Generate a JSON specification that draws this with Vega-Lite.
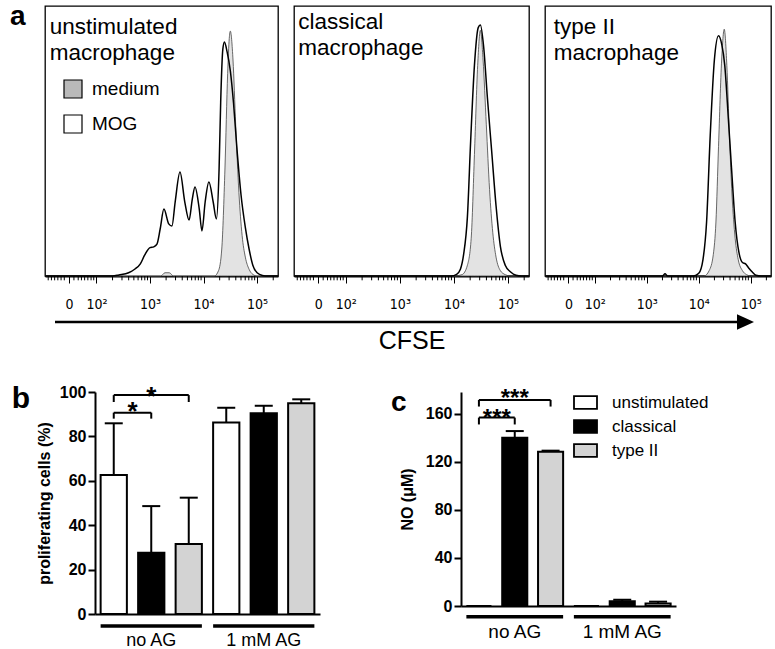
{
  "$schema": "https://vega.github.io/schema/vega-lite/v6.json",
  "padding": {"left": 9, "top": 2, "right": 0, "bottom": 0},
  "background": "white",
  "datasets": {
    "hist": [
      {"p":"a1","s":"MOG","d":1.04,"h":0},{"p":"a1","s":"MOG","d":2.3,"h":0},{"p":"a1","s":"MOG","d":2.42,"h":0.4},{"p":"a1","s":"MOG","d":2.6,"h":1.2},{"p":"a1","s":"MOG","d":2.72,"h":2.6},{"p":"a1","s":"MOG","d":2.82,"h":4.5},{"p":"a1","s":"MOG","d":2.9,"h":7.7},{"p":"a1","s":"MOG","d":3.0,"h":10.5},{"p":"a1","s":"MOG","d":3.07,"h":10.8},{"p":"a1","s":"MOG","d":3.13,"h":11.8},{"p":"a1","s":"MOG","d":3.19,"h":17.4},{"p":"a1","s":"MOG","d":3.26,"h":24.8},{"p":"a1","s":"MOG","d":3.35,"h":19.3},{"p":"a1","s":"MOG","d":3.41,"h":18.5},{"p":"a1","s":"MOG","d":3.47,"h":27.4},{"p":"a1","s":"MOG","d":3.56,"h":38.5},{"p":"a1","s":"MOG","d":3.65,"h":27.4},{"p":"a1","s":"MOG","d":3.73,"h":20.7},{"p":"a1","s":"MOG","d":3.79,"h":28.5},{"p":"a1","s":"MOG","d":3.84,"h":33},{"p":"a1","s":"MOG","d":3.92,"h":24.8},{"p":"a1","s":"MOG","d":3.97,"h":16.7},{"p":"a1","s":"MOG","d":4.03,"h":27.4},{"p":"a1","s":"MOG","d":4.1,"h":34.8},{"p":"a1","s":"MOG","d":4.18,"h":27.4},{"p":"a1","s":"MOG","d":4.24,"h":21.1},{"p":"a1","s":"MOG","d":4.29,"h":39.6},{"p":"a1","s":"MOG","d":4.32,"h":64.4},{"p":"a1","s":"MOG","d":4.36,"h":84},{"p":"a1","s":"MOG","d":4.39,"h":86.7},{"p":"a1","s":"MOG","d":4.44,"h":83},{"p":"a1","s":"MOG","d":4.5,"h":76},{"p":"a1","s":"MOG","d":4.56,"h":64},{"p":"a1","s":"MOG","d":4.62,"h":48},{"p":"a1","s":"MOG","d":4.7,"h":30},{"p":"a1","s":"MOG","d":4.78,"h":18},{"p":"a1","s":"MOG","d":4.85,"h":10},{"p":"a1","s":"MOG","d":4.92,"h":4},{"p":"a1","s":"MOG","d":5.0,"h":1.2},{"p":"a1","s":"MOG","d":5.1,"h":0.2},{"p":"a1","s":"MOG","d":5.2,"h":0},{"p":"a1","s":"MOG","d":5.39,"h":0},
      {"p":"a1","s":"medium","d":1.04,"h":0},{"p":"a1","s":"medium","d":3.2,"h":0},{"p":"a1","s":"medium","d":3.28,"h":1.2},{"p":"a1","s":"medium","d":3.36,"h":1.2},{"p":"a1","s":"medium","d":3.44,"h":0},{"p":"a1","s":"medium","d":4.2,"h":0},{"p":"a1","s":"medium","d":4.28,"h":2},{"p":"a1","s":"medium","d":4.34,"h":10},{"p":"a1","s":"medium","d":4.4,"h":40},{"p":"a1","s":"medium","d":4.45,"h":75},{"p":"a1","s":"medium","d":4.48,"h":88},{"p":"a1","s":"medium","d":4.5,"h":90.7},{"p":"a1","s":"medium","d":4.55,"h":80},{"p":"a1","s":"medium","d":4.6,"h":56},{"p":"a1","s":"medium","d":4.66,"h":31},{"p":"a1","s":"medium","d":4.72,"h":15},{"p":"a1","s":"medium","d":4.78,"h":7},{"p":"a1","s":"medium","d":4.85,"h":2.5},{"p":"a1","s":"medium","d":4.92,"h":0.6},{"p":"a1","s":"medium","d":5.0,"h":0},{"p":"a1","s":"medium","d":5.39,"h":0},
      {"p":"a2","s":"MOG","d":1.04,"h":0},{"p":"a2","s":"MOG","d":3.95,"h":0},{"p":"a2","s":"MOG","d":4.05,"h":0.6},{"p":"a2","s":"MOG","d":4.12,"h":2.5},{"p":"a2","s":"MOG","d":4.18,"h":8},{"p":"a2","s":"MOG","d":4.25,"h":22},{"p":"a2","s":"MOG","d":4.31,"h":50},{"p":"a2","s":"MOG","d":4.38,"h":78},{"p":"a2","s":"MOG","d":4.45,"h":92},{"p":"a2","s":"MOG","d":4.49,"h":93},{"p":"a2","s":"MOG","d":4.55,"h":85},{"p":"a2","s":"MOG","d":4.62,"h":66},{"p":"a2","s":"MOG","d":4.7,"h":46},{"p":"a2","s":"MOG","d":4.78,"h":26},{"p":"a2","s":"MOG","d":4.86,"h":11},{"p":"a2","s":"MOG","d":4.95,"h":4},{"p":"a2","s":"MOG","d":5.05,"h":1.5},{"p":"a2","s":"MOG","d":5.15,"h":0.3},{"p":"a2","s":"MOG","d":5.25,"h":0},{"p":"a2","s":"MOG","d":5.39,"h":0},
      {"p":"a2","s":"medium","d":1.04,"h":0},{"p":"a2","s":"medium","d":4.0,"h":0},{"p":"a2","s":"medium","d":4.15,"h":0.5},{"p":"a2","s":"medium","d":4.25,"h":4},{"p":"a2","s":"medium","d":4.32,"h":14},{"p":"a2","s":"medium","d":4.38,"h":45},{"p":"a2","s":"medium","d":4.44,"h":78},{"p":"a2","s":"medium","d":4.49,"h":91},{"p":"a2","s":"medium","d":4.54,"h":80},{"p":"a2","s":"medium","d":4.6,"h":56},{"p":"a2","s":"medium","d":4.66,"h":32},{"p":"a2","s":"medium","d":4.72,"h":16},{"p":"a2","s":"medium","d":4.78,"h":7},{"p":"a2","s":"medium","d":4.86,"h":2},{"p":"a2","s":"medium","d":4.95,"h":0.5},{"p":"a2","s":"medium","d":5.05,"h":0},{"p":"a2","s":"medium","d":5.39,"h":0},
      {"p":"a3","s":"MOG","d":1.04,"h":0},{"p":"a3","s":"MOG","d":3.3,"h":0},{"p":"a3","s":"MOG","d":3.35,"h":0.8},{"p":"a3","s":"MOG","d":3.4,"h":0},{"p":"a3","s":"MOG","d":3.9,"h":0},{"p":"a3","s":"MOG","d":4.0,"h":1},{"p":"a3","s":"MOG","d":4.08,"h":6},{"p":"a3","s":"MOG","d":4.15,"h":20},{"p":"a3","s":"MOG","d":4.22,"h":52},{"p":"a3","s":"MOG","d":4.3,"h":80},{"p":"a3","s":"MOG","d":4.38,"h":89},{"p":"a3","s":"MOG","d":4.44,"h":86},{"p":"a3","s":"MOG","d":4.5,"h":78},{"p":"a3","s":"MOG","d":4.57,"h":58},{"p":"a3","s":"MOG","d":4.63,"h":40},{"p":"a3","s":"MOG","d":4.7,"h":20},{"p":"a3","s":"MOG","d":4.77,"h":9},{"p":"a3","s":"MOG","d":4.84,"h":5},{"p":"a3","s":"MOG","d":4.9,"h":4.5},{"p":"a3","s":"MOG","d":4.96,"h":3},{"p":"a3","s":"MOG","d":5.03,"h":1.5},{"p":"a3","s":"MOG","d":5.1,"h":0.3},{"p":"a3","s":"MOG","d":5.2,"h":0},{"p":"a3","s":"MOG","d":5.39,"h":0},
      {"p":"a3","s":"medium","d":1.04,"h":0},{"p":"a3","s":"medium","d":4.1,"h":0},{"p":"a3","s":"medium","d":4.2,"h":2},{"p":"a3","s":"medium","d":4.28,"h":8},{"p":"a3","s":"medium","d":4.33,"h":20},{"p":"a3","s":"medium","d":4.38,"h":48},{"p":"a3","s":"medium","d":4.44,"h":80},{"p":"a3","s":"medium","d":4.49,"h":91.4},{"p":"a3","s":"medium","d":4.54,"h":78},{"p":"a3","s":"medium","d":4.59,"h":52},{"p":"a3","s":"medium","d":4.64,"h":30},{"p":"a3","s":"medium","d":4.7,"h":14},{"p":"a3","s":"medium","d":4.76,"h":6},{"p":"a3","s":"medium","d":4.84,"h":2},{"p":"a3","s":"medium","d":4.92,"h":0.5},{"p":"a3","s":"medium","d":5.0,"h":0},{"p":"a3","s":"medium","d":5.39,"h":0}
    ],
    "minor": [
      {"v":1.1},{"v":1.16},{"v":1.22},{"v":1.28},{"v":1.34},{"v":1.4},{"v":1.58},{"v":1.66},{"v":1.72},{"v":1.78},{"v":1.84},{"v":1.9},{"v":1.95},
      {"v":2.301},{"v":2.477},{"v":2.602},{"v":2.699},{"v":2.778},{"v":2.845},{"v":2.903},{"v":2.954},
      {"v":3.301},{"v":3.477},{"v":3.602},{"v":3.699},{"v":3.778},{"v":3.845},{"v":3.903},{"v":3.954},
      {"v":4.301},{"v":4.477},{"v":4.602},{"v":4.699},{"v":4.778},{"v":4.845},{"v":4.903},{"v":4.954},
      {"v":5.301}
    ],
    "prolif": [
      {"k":"u0","t":"unstimulated","m":62.6,"hi":85.9},
      {"k":"c0","t":"classical","m":27.6,"hi":48.6},
      {"k":"t0","t":"type II","m":31.5,"hi":52.4},
      {"k":"u1","t":"unstimulated","m":86.3,"hi":92.9},
      {"k":"c1","t":"classical","m":90.4,"hi":93.8},
      {"k":"t1","t":"type II","m":94.9,"hi":96.7}
    ],
    "no": [
      {"k":"u0","t":"unstimulated","m":0},
      {"k":"c0","t":"classical","m":140,"hi":145.5},
      {"k":"t0","t":"type II","m":128.3,"hi":129.2},
      {"k":"u1","t":"unstimulated","m":0},
      {"k":"c1","t":"classical","m":4,"hi":5.2},
      {"k":"t1","t":"type II","m":2,"hi":3.6}
    ],
    "grp": [
      {"a":"u0","b":"t0","mid":"c0","lab":"no AG"},
      {"a":"u1","b":"t1","mid":"c1","lab":"1 mM AG"}
    ],
    "brB": [
      {"a":"u0","b":"c0","y":90.7,"y0":88.0},
      {"a":"u0","b":"t0","y":98.6,"y0":95.5}
    ],
    "brC": [
      {"a":"u0","b":"c0","y":156.7,"y0":151.0},
      {"a":"u0","b":"t0","y":171.4,"y0":165.9}
    ]
  },
  "vconcat": [
    {
      "hconcat": [
        {
          "width": 233, "height": 270,
          "view": {"stroke": "black", "strokeWidth": 1.3},
          "layer": [
            {
              "data": {"name": "hist"},
              "transform": [{"filter": "datum.p == 'a1' && datum.s == 'MOG'"}],
              "mark": {"type": "area", "interpolate": "monotone"},
              "encoding": {
                "x": {"field": "d", "type": "quantitative", "scale": {"domain": [1.04, 5.39], "nice": false, "zero": false},
                  "axis": {"values": [1.49, 2, 3, 4, 5],
                    "labelExpr": "datum.value == 1.49 ? '0' : datum.value == 2 ? '10²' : datum.value == 3 ? '10³' : datum.value == 4 ? '10⁴' : '10⁵'",
                    "tickSize": 7, "tickWidth": 1, "domainWidth": 2, "labelFont": "Liberation Sans Narrow, DejaVu Sans Condensed, sans-serif", "labelFontSize": 14, "labelPadding": 14, "labelOverlap": false, "labelFlush": false, "labelBound": false, "title": null}},
                "y": {"field": "h", "type": "quantitative", "scale": {"domain": [0, 100]}, "axis": null, "stack": null},
                "fill": {"field": "s", "type": "nominal", "scale": {"domain": ["medium", "MOG"], "range": ["#b9b9b9", "white"]},
                  "legend": {"orient": "none", "legendX": 18, "legendY": 73, "title": null, "symbolType": "square", "symbolSize": 324, "symbolStrokeColor": "black", "symbolStrokeWidth": 1.2, "symbolOpacity": 1, "labelFontSize": 19, "labelOffset": 9, "rowPadding": 11, "padding": 0}}
              }
            },
            {
              "data": {"name": "hist"},
              "transform": [{"filter": "datum.p == 'a1' && datum.s == 'medium'"}],
              "mark": {"type": "area", "interpolate": "monotone", "fill": "#e3e3e3", "stroke": "#444", "strokeWidth": 0.8},
              "encoding": {"x": {"field": "d", "type": "quantitative"}, "y": {"field": "h", "type": "quantitative", "stack": null}}
            },
            {
              "data": {"name": "hist"},
              "transform": [{"filter": "datum.p == 'a1' && datum.s == 'MOG'"}],
              "mark": {"type": "line", "interpolate": "monotone", "color": "black", "strokeWidth": 1.5},
              "encoding": {"x": {"field": "d", "type": "quantitative"}, "y": {"field": "h", "type": "quantitative"}}
            },
            {
              "data": {"name": "minor"},
              "mark": {"type": "rule", "color": "black", "strokeWidth": 1},
              "encoding": {"x": {"field": "v", "type": "quantitative"}, "y": {"datum": 0, "type": "quantitative"}, "y2": {"datum": -1.6}}
            },
            {
              "data": {"values": [{}]},
              "mark": {"type": "text", "text": ["unstimulated", "macrophage"], "align": "left", "baseline": "alphabetic", "fontSize": 22.5, "lineHeight": 26},
              "encoding": {"x": {"datum": 1.13, "type": "quantitative"}, "y": {"datum": 89.6, "type": "quantitative"}}
            },
            {
              "data": {"values": [{}]},
              "mark": {"type": "text", "text": "a", "align": "left", "baseline": "alphabetic", "fontSize": 28, "fontWeight": "bold", "dx": -35},
              "encoding": {"x": {"datum": 1.04, "type": "quantitative"}, "y": {"datum": 93, "type": "quantitative"}}
            }
          ]
        },
        {
          "width": 235, "height": 270,
          "view": {"stroke": "black", "strokeWidth": 1.3},
          "layer": [
            {
              "data": {"name": "hist"},
              "transform": [{"filter": "datum.p == 'a2' && datum.s == 'medium'"}],
              "mark": {"type": "area", "interpolate": "monotone", "fill": "#e3e3e3", "stroke": "#444", "strokeWidth": 0.8},
              "encoding": {
                "x": {"field": "d", "type": "quantitative", "scale": {"domain": [1.04, 5.39], "nice": false, "zero": false},
                  "axis": {"values": [1.49, 2, 3, 4, 5],
                    "labelExpr": "datum.value == 1.49 ? '0' : datum.value == 2 ? '10²' : datum.value == 3 ? '10³' : datum.value == 4 ? '10⁴' : '10⁵'",
                    "tickSize": 7, "tickWidth": 1, "domainWidth": 2, "labelFont": "Liberation Sans Narrow, DejaVu Sans Condensed, sans-serif", "labelFontSize": 14, "labelPadding": 14, "labelOverlap": false, "labelFlush": false, "labelBound": false, "title": null}},
                "y": {"field": "h", "type": "quantitative", "scale": {"domain": [0, 100]}, "axis": null, "stack": null}
              }
            },
            {
              "data": {"name": "hist"},
              "transform": [{"filter": "datum.p == 'a2' && datum.s == 'MOG'"}],
              "mark": {"type": "line", "interpolate": "monotone", "color": "black", "strokeWidth": 1.5},
              "encoding": {"x": {"field": "d", "type": "quantitative"}, "y": {"field": "h", "type": "quantitative"}}
            },
            {
              "data": {"name": "minor"},
              "mark": {"type": "rule", "color": "black", "strokeWidth": 1},
              "encoding": {"x": {"field": "v", "type": "quantitative"}, "y": {"datum": 0, "type": "quantitative"}, "y2": {"datum": -1.6}}
            },
            {
              "data": {"values": [{}]},
              "mark": {"type": "text", "text": ["classical", "macrophage"], "align": "left", "baseline": "alphabetic", "fontSize": 22.5, "lineHeight": 26},
              "encoding": {"x": {"datum": 1.12, "type": "quantitative"}, "y": {"datum": 91.4, "type": "quantitative"}}
            }
          ]
        },
        {
          "width": 226, "height": 270,
          "view": {"stroke": "black", "strokeWidth": 1.3},
          "layer": [
            {
              "data": {"name": "hist"},
              "transform": [{"filter": "datum.p == 'a3' && datum.s == 'medium'"}],
              "mark": {"type": "area", "interpolate": "monotone", "fill": "#e3e3e3", "stroke": "#444", "strokeWidth": 0.8},
              "encoding": {
                "x": {"field": "d", "type": "quantitative", "scale": {"domain": [1.04, 5.39], "nice": false, "zero": false},
                  "axis": {"values": [1.49, 2, 3, 4, 5],
                    "labelExpr": "datum.value == 1.49 ? '0' : datum.value == 2 ? '10²' : datum.value == 3 ? '10³' : datum.value == 4 ? '10⁴' : '10⁵'",
                    "tickSize": 7, "tickWidth": 1, "domainWidth": 2, "labelFont": "Liberation Sans Narrow, DejaVu Sans Condensed, sans-serif", "labelFontSize": 14, "labelPadding": 14, "labelOverlap": false, "labelFlush": false, "labelBound": false, "title": null}},
                "y": {"field": "h", "type": "quantitative", "scale": {"domain": [0, 100]}, "axis": null, "stack": null}
              }
            },
            {
              "data": {"name": "hist"},
              "transform": [{"filter": "datum.p == 'a3' && datum.s == 'MOG'"}],
              "mark": {"type": "line", "interpolate": "monotone", "color": "black", "strokeWidth": 1.5},
              "encoding": {"x": {"field": "d", "type": "quantitative"}, "y": {"field": "h", "type": "quantitative"}}
            },
            {
              "data": {"name": "minor"},
              "mark": {"type": "rule", "color": "black", "strokeWidth": 1},
              "encoding": {"x": {"field": "v", "type": "quantitative"}, "y": {"datum": 0, "type": "quantitative"}, "y2": {"datum": -1.6}}
            },
            {
              "data": {"values": [{}]},
              "mark": {"type": "text", "text": ["type II", "macrophage"], "align": "left", "baseline": "alphabetic", "fontSize": 22.5, "lineHeight": 26},
              "encoding": {"x": {"datum": 1.21, "type": "quantitative"}, "y": {"datum": 89.6, "type": "quantitative"}}
            }
          ]
        }
      ],
      "spacing": 16,
      "bounds": "flush",
      "resolve": {"scale": {"fill": "independent"}, "legend": {"fill": "independent"}}
    },
    {
      "width": 709, "height": 59,
      "data": {"values": [{}]},
      "layer": [
        {
          "mark": {"type": "rule", "strokeWidth": 2.5, "color": "black"},
          "encoding": {
            "x": {"datum": 10, "type": "quantitative", "scale": {"domain": [0, 709], "nice": false}, "axis": null},
            "x2": {"datum": 701},
            "y": {"datum": 59, "type": "quantitative", "scale": {"domain": [0, 59], "nice": false}, "axis": null}
          }
        },
        {
          "mark": {"type": "point", "shape": "M-1,-0.9L1,0L-1,0.9Z", "size": 289, "filled": true, "color": "black", "opacity": 1},
          "encoding": {"x": {"datum": 700.5, "type": "quantitative"}, "y": {"datum": 59, "type": "quantitative"}}
        },
        {
          "mark": {"type": "text", "text": "CFSE", "fontSize": 25, "baseline": "middle"},
          "encoding": {"x": {"datum": 367, "type": "quantitative"}, "y": {"datum": 40, "type": "quantitative"}}
        }
      ]
    },
    {
      "hconcat": [
        {
          "width": 275, "height": 222,
          "layer": [
            {
              "data": {"name": "prolif"},
              "mark": {"type": "bar", "stroke": "black", "strokeWidth": 2},
              "encoding": {
                "x": {"field": "k", "type": "nominal", "sort": null, "scale": {"domain": ["u0","c0","t0","u1","c1","t1"], "range": [50, 275], "paddingInner": 0.3, "paddingOuter": 0.15},
                  "axis": {"labels": false, "ticks": false, "title": null, "domainWidth": 2}},
                "y": {"field": "m", "type": "quantitative", "scale": {"domain": [0, 100], "nice": false},
                  "axis": {"offset": -50, "values": [0,20,40,60,80,100], "title": "proliferating cells  (%)", "titleFontSize": 16, "titleFontWeight": "bold", "labelFontSize": 16, "labelFontWeight": "bold", "tickSize": 7, "tickWidth": 2, "domainWidth": 2, "labelPadding": 2, "titlePadding": 7}},
                "fill": {"field": "t", "type": "nominal", "scale": {"domain": ["unstimulated","classical","type II"], "range": ["white","black","#d3d3d3"]}, "legend": null}
              }
            },
            {
              "data": {"name": "prolif"},
              "mark": {"type": "rule", "strokeWidth": 2, "color": "black"},
              "encoding": {"x": {"field": "k", "type": "nominal"}, "y": {"field": "m", "type": "quantitative"}, "y2": {"field": "hi"}}
            },
            {
              "data": {"name": "prolif"},
              "mark": {"type": "tick", "size": 18, "thickness": 2, "color": "black", "opacity": 1},
              "encoding": {"x": {"field": "k", "type": "nominal"}, "y": {"field": "hi", "type": "quantitative"}}
            },
            {
              "data": {"name": "brB"},
              "mark": {"type": "rule", "strokeWidth": 2, "color": "black"},
              "encoding": {"x": {"field": "a", "type": "nominal", "bandPosition": 0.5}, "x2": {"field": "b", "bandPosition": 0.5}, "y": {"field": "y", "type": "quantitative"}}
            },
            {
              "data": {"name": "brB"},
              "mark": {"type": "rule", "strokeWidth": 2, "color": "black"},
              "encoding": {"x": {"field": "a", "type": "nominal"}, "y": {"field": "y", "type": "quantitative"}, "y2": {"field": "y0"}}
            },
            {
              "data": {"name": "brB"},
              "mark": {"type": "rule", "strokeWidth": 2, "color": "black"},
              "encoding": {"x": {"field": "b", "type": "nominal"}, "y": {"field": "y", "type": "quantitative"}, "y2": {"field": "y0"}}
            },
            {
              "data": {"values": [{"k": "u0", "y": 87.6}]},
              "mark": {"type": "text", "text": "*", "fontSize": 26, "fontWeight": "bold", "baseline": "alphabetic"},
              "encoding": {"x": {"field": "k", "type": "nominal", "bandPosition": 1.214}, "y": {"field": "y", "type": "quantitative"}}
            },
            {
              "data": {"values": [{"k": "c0", "y": 94.3}]},
              "mark": {"type": "text", "text": "*", "fontSize": 26, "fontWeight": "bold", "baseline": "alphabetic"},
              "encoding": {"x": {"field": "k", "type": "nominal"}, "y": {"field": "y", "type": "quantitative"}}
            },
            {
              "data": {"name": "grp"},
              "mark": {"type": "rule", "strokeWidth": 3.5, "color": "black"},
              "encoding": {"x": {"field": "a", "type": "nominal", "bandPosition": 0}, "x2": {"field": "b", "bandPosition": 1}, "y": {"datum": -5.4, "type": "quantitative"}}
            },
            {
              "data": {"name": "grp"},
              "mark": {"type": "text", "fontSize": 18, "baseline": "middle"},
              "encoding": {"x": {"field": "mid", "type": "nominal"}, "y": {"datum": -12, "type": "quantitative"}, "text": {"field": "lab"}}
            },
            {
              "data": {"values": [{}]},
              "mark": {"type": "text", "text": "b", "align": "left", "baseline": "alphabetic", "fontSize": 30, "fontWeight": "bold", "dx": -102},
              "encoding": {"x": {"datum": "u0", "type": "nominal"}, "y": {"datum": 93, "type": "quantitative"}}
            }
          ]
        },
        {
          "width": 215, "height": 214,
          "layer": [
            {
              "data": {"name": "no"},
              "mark": {"type": "bar", "stroke": "black", "strokeWidth": 2},
              "encoding": {
                "x": {"field": "k", "type": "nominal", "sort": null, "scale": {"domain": ["u0","c0","t0","u1","c1","t1"], "paddingInner": 0.3, "paddingOuter": 0.15},
                  "axis": {"labels": false, "ticks": false, "title": null, "domainWidth": 2}},
                "y": {"field": "m", "type": "quantitative", "scale": {"domain": [0, 178], "nice": false},
                  "axis": {"values": [0,40,80,120,160], "title": "NO (μM)", "titleFontSize": 16, "titleFontWeight": "bold", "labelFontSize": 16, "labelFontWeight": "bold", "tickSize": 7, "tickWidth": 2, "domainWidth": 2, "labelPadding": 2, "titlePadding": 10}},
                "fill": {"field": "t", "type": "nominal", "scale": {"domain": ["unstimulated","classical","type II"], "range": ["white","black","#d3d3d3"]},
                  "legend": {"orient": "none", "legendX": 112, "legendY": -2, "title": null, "symbolType": "M-1,-0.55H1V0.55H-1Z", "symbolSize": 529, "symbolStrokeColor": "black", "symbolStrokeWidth": 1.8, "symbolOpacity": 1, "labelFontSize": 17, "labelOffset": 14, "rowPadding": 1, "padding": 0}}
              }
            },
            {
              "data": {"name": "no"},
              "mark": {"type": "rule", "strokeWidth": 2, "color": "black"},
              "encoding": {"x": {"field": "k", "type": "nominal"}, "y": {"field": "m", "type": "quantitative"}, "y2": {"field": "hi"}}
            },
            {
              "data": {"name": "no"},
              "mark": {"type": "tick", "size": 18, "thickness": 2, "color": "black", "opacity": 1},
              "encoding": {"x": {"field": "k", "type": "nominal"}, "y": {"field": "hi", "type": "quantitative"}}
            },
            {
              "data": {"name": "brC"},
              "mark": {"type": "rule", "strokeWidth": 2, "color": "black"},
              "encoding": {"x": {"field": "a", "type": "nominal", "bandPosition": 0.5}, "x2": {"field": "b", "bandPosition": 0.5}, "y": {"field": "y", "type": "quantitative"}}
            },
            {
              "data": {"name": "brC"},
              "mark": {"type": "rule", "strokeWidth": 2, "color": "black"},
              "encoding": {"x": {"field": "a", "type": "nominal"}, "y": {"field": "y", "type": "quantitative"}, "y2": {"field": "y0"}}
            },
            {
              "data": {"name": "brC"},
              "mark": {"type": "rule", "strokeWidth": 2, "color": "black"},
              "encoding": {"x": {"field": "b", "type": "nominal"}, "y": {"field": "y", "type": "quantitative"}, "y2": {"field": "y0"}}
            },
            {
              "data": {"values": [{"k": "u0", "y": 149.4}]},
              "mark": {"type": "text", "text": "***", "fontSize": 24, "fontWeight": "bold", "baseline": "alphabetic"},
              "encoding": {"x": {"field": "k", "type": "nominal", "bandPosition": 1.214}, "y": {"field": "y", "type": "quantitative"}}
            },
            {
              "data": {"values": [{"k": "c0", "y": 166.3}]},
              "mark": {"type": "text", "text": "***", "fontSize": 24, "fontWeight": "bold", "baseline": "alphabetic"},
              "encoding": {"x": {"field": "k", "type": "nominal"}, "y": {"field": "y", "type": "quantitative"}}
            },
            {
              "data": {"name": "grp"},
              "mark": {"type": "rule", "strokeWidth": 3.5, "color": "black"},
              "encoding": {"x": {"field": "a", "type": "nominal", "bandPosition": 0}, "x2": {"field": "b", "bandPosition": 1}, "y": {"datum": -9, "type": "quantitative"}}
            },
            {
              "data": {"name": "grp"},
              "mark": {"type": "text", "fontSize": 19, "baseline": "middle"},
              "encoding": {"x": {"field": "mid", "type": "nominal"}, "y": {"datum": -22, "type": "quantitative"}, "text": {"field": "lab"}}
            },
            {
              "data": {"values": [{}]},
              "mark": {"type": "text", "text": "c", "align": "left", "baseline": "alphabetic", "fontSize": 28, "fontWeight": "bold", "dx": -88},
              "encoding": {"x": {"datum": "u0", "type": "nominal"}, "y": {"datum": 162, "type": "quantitative"}}
            }
          ]
        }
      ],
      "spacing": 70,
      "resolve": {"scale": {"fill": "independent"}, "legend": {"fill": "independent"}}
    }
  ],
  "spacing": 2,
  "resolve": {"scale": {"fill": "independent"}, "legend": {"fill": "independent"}},
  "config": {
    "font": "Liberation Sans",
    "view": {"stroke": null},
    "axis": {"domainColor": "black", "tickColor": "black", "labelColor": "black", "titleColor": "black", "grid": false},
    "legend": {"labelColor": "black", "labelFont": "Liberation Sans"},
    "text": {"color": "black", "font": "Liberation Sans"}
  }
}
